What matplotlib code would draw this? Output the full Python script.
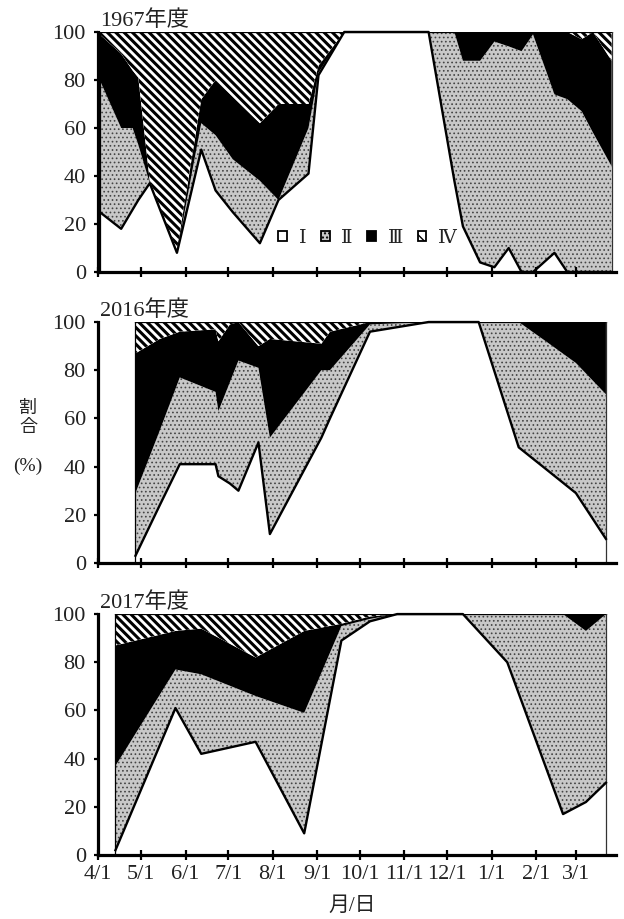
import numpy as np
import matplotlib.pyplot as plt
from matplotlib.patches import Patch

plt.rcParams['font.family'] = ['Liberation Serif', 'DejaVu Serif', 'Noto Sans CJK JP']

# x axis: days counted from 4/1
month_days = [0, 30, 61, 91, 122, 153, 183, 214, 244, 275, 306, 334]
month_labels = ['4/1', '5/1', '6/1', '7/1', '8/1', '9/1', '10/1', '11/1', '12/1', '1/1', '2/1', '3/1']
class_names = ['Ⅰ', 'Ⅱ', 'Ⅲ', 'Ⅳ']

# 1967年度 (%)
days_1967 = [1, 16, 24, 28, 36, 55, 72, 82, 94, 113, 126, 147, 154, 172, 231,
             249, 255, 267, 277, 287, 296, 304, 319, 328, 338, 346, 359]
c1_1967 = [25, 18, 26, 30, 37, 8, 51, 34, 25, 12, 30, 41, 82, 100, 100,
           38, 19, 4, 2, 10, 0, 0, 8, 0, 0, 0, 0]
c2_1967 = [55, 42, 34, 23, 0, 0, 11, 23, 22, 26, 0, 19, 1, 0, 0,
           62, 69, 84, 94, 84, 92, 99, 66, 72, 67, 58, 44]
c3_1967 = [19, 31, 24, 28, 1, 1, 10, 23, 26, 24, 40, 10, 3, 0, 0,
           0, 12, 12, 4, 6, 8, 1, 26, 28, 30, 42, 44]
c4_1967 = [1, 9, 16, 19, 62, 91, 28, 20, 27, 38, 30, 30, 14, 0, 0,
           0, 0, 0, 0, 0, 0, 0, 0, 0, 3, 0, 12]

# 2016年度 (%)
days_2016 = [26, 43, 57, 82, 84, 92, 98, 112, 120, 156, 162, 190, 231, 266,
             294, 313, 334, 355]
c1_2016 = [3, 24, 41, 41, 36, 33, 30, 50, 12, 52, 60, 96, 100, 100, 48, 39, 29, 10]
c2_2016 = [26, 31, 36, 30, 27, 42, 54, 31, 40, 28, 20, 3, 0, 0, 52, 53, 54, 60]
c3_2016 = [58, 38, 19, 26, 29, 24, 16, 9, 41, 11, 16, 1, 0, 0, 0, 8, 17, 30]
c4_2016 = [13, 7, 4, 3, 8, 1, 0, 10, 7, 9, 4, 0, 0, 0, 0, 0, 0, 0]

# 2017年度 (%)
days_2017 = [12, 54, 72, 110, 144, 170, 190, 209, 255, 286, 325, 341, 355]
c1_2017 = [2, 61, 42, 47, 9, 89, 97, 100, 100, 80, 17, 22, 30]
c2_2017 = [35, 16, 33, 19, 50, 6, 1, 0, 0, 20, 83, 71, 70]
c3_2017 = [50, 16, 19, 16, 34, 1, 1, 0, 0, 0, 0, 7, 0]
c4_2017 = [13, 7, 6, 18, 7, 4, 1, 0, 0, 0, 0, 0, 0]

panels = [
    ('1967年度', days_1967, [c1_1967, c2_1967, c3_1967, c4_1967]),
    ('2016年度', days_2016, [c1_2016, c2_2016, c3_2016, c4_2016]),
    ('2017年度', days_2017, [c1_2017, c2_2017, c3_2017, c4_2017]),
]

# fill styles for classes I..IV
styles = [
    dict(fc='white', hatch=None, hc='black', hlw=1.0),
    dict(fc='#c8c8c8', hatch='....', hc='#444444', hlw=0.7),
    dict(fc='black', hatch=None, hc='black', hlw=1.0),
    dict(fc='white', hatch='\\\\\\\\', hc='black', hlw=2.2),
]

per_artist_hatch_lw = hasattr(Patch, 'set_hatch_linewidth')
if not per_artist_hatch_lw:
    plt.rcParams['hatch.linewidth'] = 1.8

fig = plt.figure(figsize=(6.24, 9.19), dpi=100)
boxes = [(0.1575, 0.7040, 0.8296, 0.2612),
         (0.1575, 0.3874, 0.8296, 0.2622),
         (0.1575, 0.0696, 0.8296, 0.2622)]

axes = []
for (title, days, layers), box in zip(panels, boxes):
    ax = fig.add_axes(box)
    days = np.array(days)
    lower = np.zeros(len(days))
    for vals, st in zip(layers, styles):
        upper = lower + np.array(vals)
        with plt.rc_context({'hatch.color': st['hc']}):
            coll = ax.fill_between(days, lower, upper, facecolor=st['fc'],
                                   hatch=st['hatch'], linewidth=0)
        if per_artist_hatch_lw:
            coll.set_hatch_linewidth(st['hlw'])
        lower = upper
    total = lower
    # outlines
    ax.plot(days, total, color='black', lw=0.9)
    ax.plot([days[0], days[0]], [0, total[0]], color='black', lw=0.9)
    ax.plot([days[-1], days[-1]], [0, total[-1]], color='#333333', lw=0.9)
    ax.plot(days, layers[0], color='black', lw=1.7, clip_on=False)

    ax.set_xlim(0, 362)
    ax.set_ylim(0, 100)
    ax.set_yticks([0, 20, 40, 60, 80, 100])
    ax.set_xticks(month_days)
    ax.set_xticklabels(month_labels)
    for s in ['top', 'right']:
        ax.spines[s].set_visible(False)
    for s in ['left', 'bottom']:
        ax.spines[s].set_linewidth(2.3)
    ax.tick_params(axis='x', direction='inout', length=7, width=1.6, pad=4,
                   labelsize=16, labelcolor='#222222')
    ax.tick_params(axis='y', direction='out', length=3, width=1.6, pad=6,
                   labelsize=16, labelcolor='#222222')
    ax.text(0.003, 1.005, title, transform=ax.transAxes, ha='left', va='bottom',
            fontsize=16, color='#222222')
    axes.append(ax)

for ax in axes[:2]:
    ax.tick_params(axis='x', labelbottom=False)

# legend in the 1967 panel
leg_hatches = [None, '....', None, '\\\\']
handles = []
for st, h in zip(styles, leg_hatches):
    p = Patch(facecolor=st['fc'], edgecolor='black', linewidth=1.3, hatch=h)
    if per_artist_hatch_lw:
        p.set_hatch_linewidth(1.6 if h == '\\\\' else 0.6)
    handles.append(p)
leg = axes[0].legend(handles, class_names, loc='center', bbox_to_anchor=(0.52, 0.14),
                     ncol=4, frameon=False, fontsize=14, handlelength=0.45, handleheight=0.45,
                     handletextpad=0.6, columnspacing=0.75, borderpad=0.2)
for t in leg.get_texts():
    t.set_color('#222222')

fig.text(0.045, 0.556, '割', ha='center', va='center', fontsize=13, color='#222222')
fig.text(0.045, 0.535, '合', ha='center', va='center', fontsize=13, color='#222222')
fig.text(0.045, 0.493, '(%)', ha='center', va='center', fontsize=14, color='#222222')
fig.text(0.564, 0.014, '月/日', ha='center', va='center', fontsize=15, color='#222222')

fig.savefig('out.png', dpi=100)
